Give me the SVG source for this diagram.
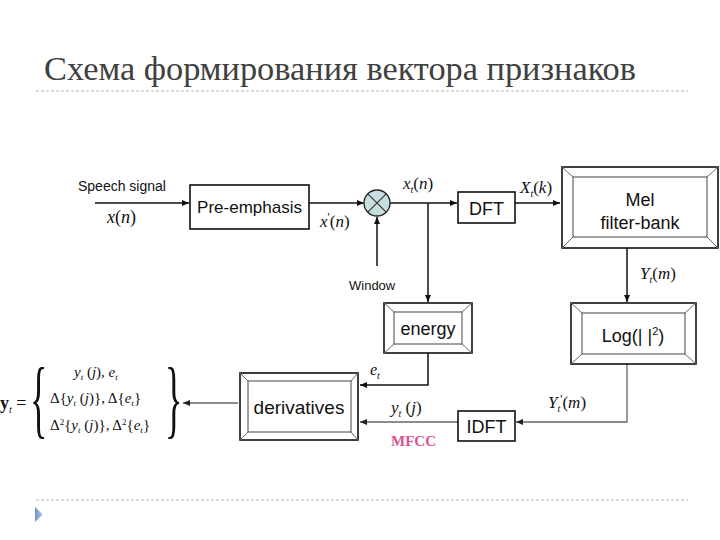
<svg xmlns="http://www.w3.org/2000/svg" width="720" height="540" viewBox="0 0 720 540">
<defs>
<marker id="ah" markerWidth="8" markerHeight="8" refX="7" refY="4" orient="auto" markerUnits="userSpaceOnUse">
<path d="M0,1 L7,4 L0,7 Z" fill="#111"/>
</marker>
<marker id="ahg" markerWidth="8" markerHeight="8" refX="7" refY="4" orient="auto" markerUnits="userSpaceOnUse">
<path d="M0,1 L7,4 L0,7 Z" fill="#222"/>
</marker>
<linearGradient id="tri" x1="0" y1="0" x2="1" y2="0">
<stop offset="0" stop-color="#6f93bf"/>
<stop offset="1" stop-color="#b9cfe6"/>
</linearGradient>
</defs>
<style>
.title{font-family:"Liberation Serif",serif;font-size:33px;fill:#404040}
.dash{stroke:#b5b5b5;stroke-width:1;stroke-dasharray:3 2;fill:none}
.sans{font-family:"Liberation Sans",Arial,sans-serif;fill:#111}
.math{font-family:"Liberation Serif","Times New Roman",serif;font-style:italic;fill:#111}
.mathr{font-family:"Liberation Serif","Times New Roman",serif;fill:#111}
.box{fill:#fff;stroke:#111;stroke-width:1.6}
.outer{fill:#fff;stroke:#111;stroke-width:1.6}
.inner{fill:#fff;stroke:#444;stroke-width:1}
.bev{stroke:#666;stroke-width:1}
.ln{stroke:#111;stroke-width:1.5;fill:none}
.lg{stroke:#666;stroke-width:1.3;fill:none}
</style>

<text class="title" x="44" y="80" textLength="592" lengthAdjust="spacingAndGlyphs">Схема формирования вектора признаков</text>
<line class="dash" x1="36" y1="91" x2="688" y2="91"/>
<line class="dash" x1="36" y1="500" x2="688" y2="500"/>
<path d="M35,507 L43,514.5 L35,522 Z" fill="url(#tri)"/>

<g id="connectors">
<line class="ln" x1="95" y1="203" x2="189" y2="203" marker-end="url(#ah)"/>
<line class="ln" x1="309" y1="203" x2="364" y2="203" marker-end="url(#ah)"/>
<line class="ln" x1="377" y1="266" x2="377" y2="217" marker-end="url(#ah)"/>
<line class="ln" x1="390" y1="203" x2="457" y2="203" marker-end="url(#ah)"/>
<line class="ln" x1="428" y1="203" x2="428" y2="302" marker-end="url(#ah)"/>
<line class="ln" x1="515" y1="203" x2="560" y2="203" marker-end="url(#ah)"/>
<line class="ln" x1="627" y1="248" x2="627" y2="302" marker-end="url(#ah)"/>
<polyline class="ln" points="428,353 428,385 360,385" marker-end="url(#ah)"/>
<polyline class="lg" points="627,364 627,422 516,422" marker-end="url(#ahg)"/>
<line class="lg" x1="458" y1="422" x2="360" y2="422" marker-end="url(#ahg)"/>
<line class="lg" x1="238" y1="403" x2="183" y2="403" marker-end="url(#ahg)"/>
</g>

<g id="labels">
<text class="sans" x="78" y="191" font-size="14">Speech signal</text>
<text class="math" x="107" y="223" font-size="18">x<tspan font-style="normal">(</tspan>n<tspan font-style="normal">)</tspan></text>
<text class="math" x="320" y="227" font-size="17">x<tspan font-style="normal" font-size="12" dy="-6">'</tspan><tspan font-style="normal" dy="6">(</tspan>n<tspan font-style="normal">)</tspan></text>
<text class="sans" x="349" y="290" font-size="13">Window</text>
<text class="math" x="403" y="189" font-size="17">x<tspan font-size="10" dy="4">t</tspan><tspan font-style="normal" dy="-4">(</tspan>n<tspan font-style="normal">)</tspan></text>
<text class="math" x="520" y="193" font-size="17">X<tspan font-size="10" dy="4">t</tspan><tspan font-style="normal" dy="-4">(</tspan>k<tspan font-style="normal">)</tspan></text>
<text class="math" x="640" y="279" font-size="17">Y<tspan font-size="10" dy="4">t</tspan><tspan font-style="normal" dy="-4">(</tspan>m<tspan font-style="normal">)</tspan></text>
<text class="math" x="548" y="408" font-size="17">Y<tspan font-size="10" dy="4">t</tspan><tspan font-style="normal" font-size="12" dy="-9">'</tspan><tspan font-style="normal" dy="5">(</tspan>m<tspan font-style="normal">)</tspan></text>
<text class="math" x="370" y="375" font-size="16">e<tspan font-size="10" dy="4">t</tspan></text>
<text class="math" x="391" y="413" font-size="17">y<tspan font-size="10" dy="4">t</tspan><tspan font-style="normal" dy="-4"> (</tspan>j<tspan font-style="normal">)</tspan></text>
<text x="391" y="446" font-family="Liberation Serif,serif" font-weight="bold" font-size="15" fill="#e0508f">MFCC</text>
</g>

<g id="preemphasis">
<rect class="box" x="190" y="185" width="119" height="44"/>
<text class="sans" x="249.5" y="213" font-size="17" text-anchor="middle">Pre-emphasis</text>
</g>

<g id="multiplier">
<circle cx="377" cy="203" r="13" fill="#c8dfe0" stroke="#222" stroke-width="1.3"/>
<path d="M367.8,193.8 L386.2,212.2 M386.2,193.8 L367.8,212.2" stroke="#333" stroke-width="1.2"/>
</g>

<g id="dft">
<rect class="box" x="458" y="192" width="57" height="31"/>
<text class="sans" x="486.5" y="215" font-size="18" text-anchor="middle">DFT</text>
</g>

<g id="melbank">
<rect class="outer" x="562" y="167" width="156" height="81"/>
<rect class="inner" x="573" y="177" width="134" height="60"/>
<path class="bev" d="M562,167 L573,177 M718,167 L707,177 M562,248 L573,237 M718,248 L707,237"/>
<text class="sans" x="640" y="206" font-size="18" text-anchor="middle">Mel</text>
<text class="sans" x="640" y="229" font-size="18" text-anchor="middle">filter-bank</text>
</g>

<g id="energy">
<rect class="outer" x="384" y="303" width="88" height="50"/>
<rect class="inner" x="394" y="312" width="68" height="32"/>
<path class="bev" d="M384,303 L394,312 M472,303 L462,312 M384,353 L394,344 M472,353 L462,344"/>
<text class="sans" x="428" y="335" font-size="18" text-anchor="middle">energy</text>
</g>

<g id="log">
<rect class="outer" x="571" y="303" width="125" height="61"/>
<rect class="inner" x="582" y="313" width="103" height="41"/>
<path class="bev" d="M571,303 L582,313 M696,303 L685,313 M571,364 L582,354 M696,364 L685,354"/>
<text class="sans" x="633" y="342" font-size="18" text-anchor="middle">Log(|  |<tspan font-size="11" dy="-7">2</tspan><tspan dy="7">)</tspan></text>
</g>

<g id="idft">
<rect class="box" x="458" y="411" width="57" height="30"/>
<text class="sans" x="486.5" y="433" font-size="18" text-anchor="middle">IDFT</text>
</g>

<g id="derivatives">
<rect class="outer" x="240" y="373" width="118" height="67"/>
<rect class="inner" x="248" y="381" width="103" height="51"/>
<path class="bev" d="M240,373 L248,381 M358,373 L351,381 M240,440 L248,432 M358,440 L351,432"/>
<text class="sans" x="299" y="414" font-size="19" text-anchor="middle">derivatives</text>
</g>

<g id="formula">
<text x="0" y="409" font-family="Liberation Serif,serif" font-weight="bold" font-size="18" fill="#111">y<tspan font-size="10" dy="4" font-style="italic" font-weight="normal">t</tspan><tspan dy="-4" font-weight="normal"> =</tspan></text>
<text class="mathr" x="0" y="0" font-size="86" transform="translate(30,427) scale(0.42,1)" fill="#333">{</text>
<text class="mathr" x="0" y="0" font-size="86" transform="translate(165,427) scale(0.42,1)" fill="#333">}</text>
<text class="math" x="74" y="377" font-size="15">y<tspan font-size="9" dy="3">t</tspan><tspan font-style="normal" dy="-3">  (</tspan>j<tspan font-style="normal">), </tspan>e<tspan font-size="9" dy="3">t</tspan></text>
<text class="math" x="50" y="403" font-size="15"><tspan font-style="normal">Δ{</tspan>y<tspan font-size="9" dy="3">t</tspan><tspan font-style="normal" dy="-3">  (</tspan>j<tspan font-style="normal">)}, Δ{</tspan>e<tspan font-size="9" dy="3">t</tspan><tspan font-style="normal" dy="-3">}</tspan></text>
<text class="math" x="50" y="430" font-size="15"><tspan font-style="normal">Δ</tspan><tspan font-style="normal" font-size="9" dy="-5">2</tspan><tspan font-style="normal" dy="5">{</tspan>y<tspan font-size="9" dy="3">t</tspan><tspan font-style="normal" dy="-3">  (</tspan>j<tspan font-style="normal">)}, Δ</tspan><tspan font-style="normal" font-size="9" dy="-5">2</tspan><tspan font-style="normal" dy="5">{</tspan>e<tspan font-size="9" dy="3">t</tspan><tspan font-style="normal" dy="-3">}</tspan></text>
</g>
</svg>
